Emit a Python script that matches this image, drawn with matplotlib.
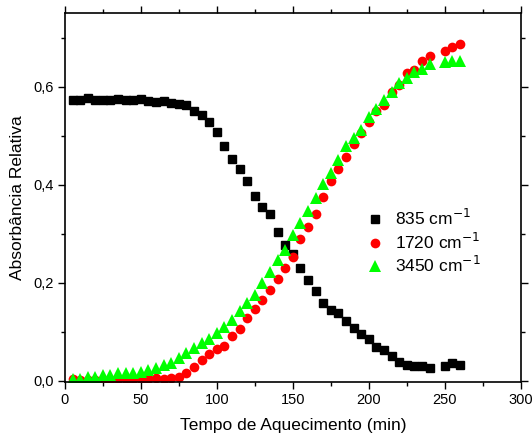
import numpy as np
import matplotlib
matplotlib.use('Agg')
import matplotlib.pyplot as plt
from matplotlib.ticker import MultipleLocator, FuncFormatter

plt.rcParams['font.family'] = ['Liberation Sans', 'DejaVu Sans']

# --- DATA ---
time_min = [5, 10, 15, 20, 25, 30, 35, 40, 45, 50, 55, 60, 65, 70, 75, 80,
            85, 90, 95, 100, 105, 110, 115, 120, 125, 130, 135, 140, 145, 150,
            155, 160, 165, 170, 175, 180, 185, 190, 195, 200, 205, 210, 215,
            220, 225, 230, 235, 240, 250, 255, 260]

abs_835 = [0.573, 0.573, 0.577, 0.573, 0.573, 0.573, 0.575, 0.573, 0.573, 0.575,
           0.572, 0.570, 0.571, 0.568, 0.565, 0.563, 0.550, 0.543, 0.528, 0.508,
           0.480, 0.453, 0.433, 0.408, 0.378, 0.355, 0.340, 0.303, 0.278, 0.259,
           0.230, 0.205, 0.184, 0.160, 0.145, 0.139, 0.123, 0.108, 0.096, 0.085,
           0.069, 0.063, 0.050, 0.039, 0.033, 0.031, 0.031, 0.026, 0.031, 0.036,
           0.032]

abs_1720 = [0.003, 0.002, 0.001, 0.001, 0.002, 0.002, 0.003, 0.003, 0.004, 0.004,
            0.004, 0.005, 0.004, 0.005, 0.008, 0.016, 0.029, 0.043, 0.054, 0.065,
            0.072, 0.092, 0.107, 0.128, 0.147, 0.165, 0.186, 0.208, 0.230, 0.252,
            0.290, 0.315, 0.341, 0.376, 0.409, 0.432, 0.458, 0.483, 0.507, 0.529,
            0.550, 0.563, 0.590, 0.604, 0.629, 0.635, 0.654, 0.664, 0.673, 0.682,
            0.687]

abs_3450 = [0.004, 0.004, 0.009, 0.009, 0.012, 0.012, 0.016, 0.016, 0.017, 0.019,
            0.022, 0.026, 0.033, 0.037, 0.046, 0.058, 0.068, 0.078, 0.086, 0.098,
            0.111, 0.125, 0.143, 0.159, 0.175, 0.199, 0.223, 0.247, 0.267, 0.298,
            0.323, 0.347, 0.373, 0.402, 0.425, 0.451, 0.480, 0.495, 0.512, 0.538,
            0.555, 0.573, 0.590, 0.609, 0.618, 0.631, 0.637, 0.646, 0.650, 0.652,
            0.653]

series_labels = ['835 cm$^{-1}$', '1720 cm$^{-1}$', '3450 cm$^{-1}$']


def comma_fmt(v, pos):
    return f"{v:.1f}".replace('.', ',')


fig = plt.figure(figsize=(5.32, 4.33), dpi=100)
ax = fig.add_axes([0.122, 0.118, 0.857, 0.852])

ax.plot(time_min, abs_835, linestyle='none', marker='s', markersize=6.3,
        color='black', label=series_labels[0])
ax.plot(time_min, abs_1720, linestyle='none', marker='o', markersize=7.0,
        color='#ff0000', markeredgewidth=0, label=series_labels[1])
ax.plot(time_min, abs_3450, linestyle='none', marker='^', markersize=8.0,
        color='#00ff00', markeredgewidth=0, label=series_labels[2])

ax.set_xlim(0, 300)
ax.set_ylim(-0.002, 0.751)
ax.xaxis.set_major_locator(MultipleLocator(50))
ax.xaxis.set_minor_locator(MultipleLocator(25))
ax.yaxis.set_major_locator(MultipleLocator(0.2))
ax.yaxis.set_minor_locator(MultipleLocator(0.1))
ax.yaxis.set_major_formatter(FuncFormatter(comma_fmt))

ax.tick_params(which='both', direction='out', labelsize=10.5, width=1)
ax.tick_params(which='major', length=5, pad=3)
ax.tick_params(which='minor', length=3)
ax.tick_params(axis='x', which='both', top=True, labeltop=False)
ax.tick_params(axis='y', which='both', right=True, labelright=False)
for sp in ax.spines.values():
    sp.set_linewidth(1.2)

ax.set_xlabel('Tempo de Aquecimento (min)', fontsize=12.5, labelpad=8)
ax.set_ylabel('Absorbância Relativa', fontsize=12.5, labelpad=6)

ax.legend(loc='upper left', bbox_to_anchor=(0.645, 0.49), frameon=False,
          fontsize=12.5, handletextpad=0.7, labelspacing=0.2, borderaxespad=0,
          handlelength=1.0)

fig.savefig('out.png', dpi=100)
